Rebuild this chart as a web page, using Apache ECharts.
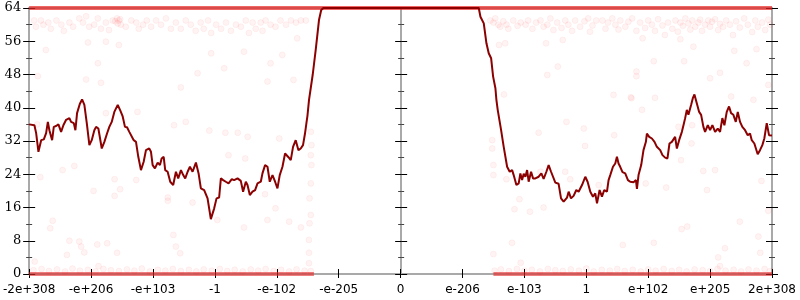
<!DOCTYPE html>
<html><head><meta charset="utf-8">
<script src="https://cdn.jsdelivr.net/npm/echarts@6/dist/echarts.min.js"></script>
<style>html,body{margin:0;padding:0;background:#fff}#c{width:800px;height:300px}</style>
</head><body><div id="c"></div>
<script>
const xTickLabels = ["-2e+308","-e+206","-e+103","-1","-e-102","-e-205","0","e-206","e-103","1","e+102","e+205","2e+308"];
const yTicks = [0,8,16,24,32,40,48,56,64];

const lineX = [-6.000,-5.915,-5.887,-5.850,-5.806,-5.763,-5.726,-5.698,-5.673,-5.629,
-5.602,-5.565,-5.527,-5.484,-5.447,-5.403,-5.350,-5.323,-5.279,-5.253,
-5.226,-5.182,-5.145,-5.108,-5.069,-5.027,-4.989,-4.947,-4.919,-4.882,
-4.855,-4.827,-4.785,-4.742,-4.705,-4.666,-4.624,-4.569,-4.527,-4.489,
-4.452,-4.419,-4.382,-4.355,-4.311,-4.274,-4.237,-4.194,-4.150,-4.113,
-4.060,-4.032,-4.005,-3.968,-3.924,-3.887,-3.860,-3.827,-3.802,-3.763,
-3.721,-3.673,-3.629,-3.592,-3.548,-3.511,-3.479,-3.440,-3.403,-3.360,
-3.306,-3.263,-3.226,-3.173,-3.118,-3.065,-3.011,-2.973,-2.931,-2.903,
-2.866,-2.823,-2.779,-2.726,-2.689,-2.634,-2.581,-2.544,-2.500,-2.473,
-2.435,-2.392,-2.350,-2.311,-2.258,-2.231,-2.189,-2.150,-2.113,-2.069,
-2.027,-1.989,-1.952,-1.908,-1.866,-1.811,-1.774,-1.737,-1.694,-1.650,
-1.613,-1.576,-1.544,-1.521,-1.505,-1.479,-1.419,-1.371,-1.318,-1.282,
-1.247,
1.263,1.290,1.344,1.387,1.424,1.463,1.495,1.532,1.548,1.569,
1.624,1.666,1.721,1.763,1.802,1.827,1.871,1.908,1.935,1.963,
1.989,2.016,2.044,2.069,2.108,2.140,2.177,2.231,2.274,2.311,
2.355,2.392,2.431,2.463,2.500,2.553,2.592,2.634,2.689,2.715,
2.753,2.795,2.839,2.876,2.931,2.984,3.021,3.065,3.108,3.145,
3.173,3.215,3.253,3.290,3.334,3.360,3.387,3.431,3.468,3.495,
3.521,3.548,3.585,3.629,3.673,3.710,3.763,3.802,3.818,3.844,
3.887,3.924,3.963,3.979,4.016,4.060,4.102,4.140,4.194,4.231,
4.274,4.311,4.344,4.382,4.408,4.435,4.463,4.500,4.544,4.570,
4.597,4.624,4.650,4.694,4.721,4.747,4.785,4.823,4.855,4.892,
4.919,4.963,5.000,5.037,5.081,5.124,5.161,5.198,5.231,5.269,
5.306,5.339,5.376,5.415,5.447,5.484,5.521,5.565,5.608,5.645,
5.673,5.715,5.769,5.806,5.844,5.876,5.915,5.952,6.000];

const lineY = [36.0,35.8,33.9,29.4,32.2,32.4,33.9,36.6,34.6,32.2,
35.4,35.6,36.0,34.2,35.8,37.1,37.5,36.6,36.3,34.6,
38.7,40.9,42.0,40.7,36.3,31.0,32.2,34.6,35.4,35.0,
35.4,30.2,31.8,33.8,35.4,36.6,39.0,40.7,39.3,37.9,
35.4,35.3,34.2,34.6,32.2,31.8,28.2,25.0,27.0,29.8,
30.2,29.4,26.2,25.4,26.8,26.2,27.8,28.2,25.0,24.6,
22.2,21.4,24.6,23.0,25.0,23.8,23.0,24.6,25.8,24.6,
26.8,24.2,20.6,20.2,18.2,13.2,15.8,18.2,18.4,23.0,
22.6,22.2,21.8,22.8,22.6,23.0,22.4,19.8,22.2,21.4,
19.0,19.8,20.2,21.8,22.2,24.2,26.2,25.8,22.2,23.8,
22.2,20.6,23.8,25.8,29.0,28.1,27.4,30.6,32.2,29.8,
30.2,31.0,33.8,36.3,38.0,41.9,48.0,53.9,61.1,63.5,
64,
64,61.9,60.3,55.5,53.1,51.9,47.5,44.7,41.9,39.5,
34.6,30.6,25.8,24.6,25.0,23.8,21.4,21.8,24.2,22.6,
24.1,23.4,25.0,22.2,24.6,23.0,23.0,23.4,24.2,22.9,
24.6,26.2,24.6,24.2,22.0,21.7,18.2,17.4,18.4,19.8,
18.2,18.8,20.2,19.8,21.4,23.4,22.2,19.8,18.6,19.4,
17.0,20.2,18.6,20.2,19.8,22.6,23.8,25.8,26.6,28.2,
26.6,25.8,24.5,24.2,22.6,22.2,22.1,22.6,20.5,23.8,
26.2,29.8,31.8,33.8,33.0,32.6,31.8,30.6,29.8,28.6,
28.0,27.8,31.4,31.8,31.4,33.0,30.2,32.2,34.2,35.8,
37.5,39.5,38.3,40.7,42.3,43.2,41.1,39.0,38.3,35.4,
34.2,35.8,34.6,35.8,34.2,35.0,34.2,37.5,35.8,39.0,
40.3,38.7,38.3,36.6,39.0,36.6,35.4,34.6,33.4,33.8,
32.2,31.4,28.8,29.8,31.0,32.6,36.3,33.4,33.3];

const topBand = [[-6,64],[6,64]];
const bottomBandLeft = [[-6,0],[-1.40,0]];
const bottomBandRight = [[1.50,0],[6,0]];

const topDots = [[-5.92,61],[-5.89,59.5],[-5.81,61],[-5.77,60],[-5.69,60.5],[-5.65,59],[-5.56,61],[-5.48,60],[-5.44,58.5],[-5.35,60.5],
[-5.29,59.5],[-5.19,61.5],[-5.13,60.5],[-5.08,62],[-5.03,59.5],[-4.95,60],[-4.89,61.5],[-4.84,59],[-4.76,60.5],[-4.71,58.7],
[-4.65,61],[-4.61,60.8],[-4.58,61.5],[-4.57,60.3],[-4.55,61],[-4.53,61.3],[-4.52,60],[-4.44,59.5],[-4.35,61],[-4.27,60.5],[-4.23,59],
[-4.16,60],[-4.10,61],[-4.03,59.5],[-3.95,61],[-3.87,60],[-3.79,61.5],[-3.71,59],[-3.63,60.5],[-3.55,59],[-3.47,61],
[-3.39,60],[-3.31,58.5],[-3.23,60.5],[-3.18,59],[-3.11,61],[-3.06,58],[-2.98,60],[-2.90,59],[-2.82,60.5],[-2.74,58.5],
[-2.66,60],[-2.58,59.5],[-2.50,61],[-2.45,58],[-2.39,60.5],[-2.34,59],[-2.26,60.5],[-2.23,58.5],[-2.18,61],[-2.10,60],
[-2.02,59.5],[-1.94,61],[-1.85,60],[-1.77,61],[-1.69,60.5],[-1.61,61],[-1.53,61],
[1.45,61],[1.50,60.5],[1.53,61.5],[1.58,60],[1.61,59.5],[1.66,60.8],[1.71,60],[1.74,59],[1.82,61],[1.89,59.7],
[1.94,60.5],[2.02,60],[2.06,61],[2.13,59],[2.19,60.5],[2.26,61],[2.31,59.5],[2.37,60],[2.42,61.5],[2.47,58.7],
[2.53,60.5],[2.60,59.2],[2.66,61],[2.71,60],[2.77,58.5],[2.82,61],[2.90,59.5],[2.97,60.8],[3.03,61.5],[3.10,59.8],
[3.16,61],[3.26,61],[3.31,59],[3.35,60.5],[3.42,61.5],[3.47,60],[3.52,58.8],[3.55,61],[3.63,59.5],[3.68,60.7],
[3.74,61.5],[3.81,58.5],[3.87,60.5],[3.95,59.2],[4.00,61],[4.06,60],[4.11,58.5],[4.16,61.3],[4.23,59.8],[4.27,57.5],
[4.32,60.5],[4.39,59],[4.44,61],[4.48,58.3],[4.52,60.5],[4.56,59.7],[4.60,61.5],[4.65,60.3],[4.68,58.8],[4.71,61],
[4.76,59.5],[4.81,60.5],[4.84,61.2],[4.87,58.5],[4.92,60],[4.97,61],[5.00,59.5],[5.03,60.7],[5.08,61.3],[5.13,58.7],
[5.16,60.2],[5.21,59.5],[5.26,61],[5.32,60],[5.37,57.5],[5.42,60.8],[5.48,59.3],[5.55,61.5],[5.61,60],[5.68,58.2],
[5.73,61],[5.77,59.5],[5.84,60.5],[5.89,58.7],[5.94,61.2],[5.97,60]];

const scatterDots = [[-5.73,53.9],[-5.05,55.7],[-4.76,55.9],[-4.55,55.1],[-4.89,50.7],[-5.08,46.8],[-4.84,46.0],[-5.86,47.6],[-3.55,44.9],[-3.28,48.3],
[-3.06,53.1],[-2.53,53.5],[-2.85,49.5],[-2.10,50.7],[-1.91,52.7],[-2.15,46.3],[-1.73,46.7],[-1.67,56.7],
[-4.76,38.7],[-4.25,39.0],[-3.66,35.8],[-3.47,36.6],[-5.46,25.0],[-5.27,26.0],[-5.82,23.3],[-4.62,22.8],[-4.27,22.6],[-4.96,20.0],
[-4.53,20.4],[-4.62,18.8],[-3.76,18.4],[-5.87,36.0],[-5.62,12.8],[-5.66,11.0],[-5.35,8.0],[-5.19,7.8],[-5.16,6.6],[-5.11,5.2],
[-5.39,4.6],[-4.90,7.1],[-4.74,7.4],[-4.58,5.1],[-5.91,3.0],[-4.88,1.9],[-3.76,17.6],[-3.36,17.2],[-3.67,9.4],[-3.63,6.6],[-3.56,5.0],
[-3.09,34.5],[-2.83,34.0],[-2.63,34.0],[-2.47,33.0],[-1.96,32.6],[-2.78,28.6],[-2.51,27.8],[-1.45,34.2],[-1.44,31.0],[-1.45,28.6],
[-1.44,26.2],[-1.45,21.8],[-1.47,18.2],[-1.45,14.2],[-2.96,13.0],[-2.19,19.2],[-2.02,15.8],[-2.53,11.2],[-2.15,13.0],[-1.80,12.6],
[-1.61,11.2],[-1.47,12.2],[-1.48,8.2],[-1.48,5.1],[-1.48,2.6],
[1.80,7.5],[1.50,4.8],[1.94,2.7],[1.48,32.2],[1.48,30.2],[1.50,26.2],[1.50,23.8],[1.71,22.8],[2.23,34.0],[2.68,36.6],
[2.96,35.0],[2.98,30.8],[3.45,33.4],[2.66,24.6],[2.74,22.8],[2.26,24.6],[1.92,18.0],[1.84,15.6],[2.09,15.0],[2.31,16.0],[3.20,21.4],
[3.73,42.3],[4.11,42.4],[3.90,39.5],[4.49,35.4],[4.71,35.8],[5.34,42.7],[5.70,41.9],[4.53,27.4],[4.70,31.4],[4.89,24.8],
[5.08,25.0],[4.95,20.2],[3.96,21.8],[4.29,20.8],[5.83,22.4],[3.59,7.0],[4.09,7.5],[4.54,10.8],[4.63,11.4],[5.48,12.6],
[5.94,15.2],[5.78,9.0],[5.24,6.2],[5.13,4.0],[5.81,5.1],[5.16,1.9],
[4.09,51.2],[4.58,51.2],[3.81,48.7],[3.81,47.6],[5.16,48.4],[5.00,47.1],[5.59,50.7],[5.39,53.7],[5.75,54.1],[4.73,54.7],
[3.44,43.1],[3.72,42.5],[5.94,45.5],[3.91,56.7],[4.52,56.5],[1.59,55.1],[1.69,55.5],[2.35,55.5],[2.37,47.9],[2.54,49.9],
[1.67,43.2],[2.62,56.3],[3.06,58.3]];

const bottomDots = [[-5.93,0.9],[-5.8,1.2],[-5.68,0.7],[-5.55,1.1],[-5.42,0.6],[-5.3,1.3],[-5.18,0.8],[-5.05,1.0],[-4.93,0.6],[-4.8,1.2],
[-4.68,0.9],[-4.55,0.7],[-4.42,1.1],[-4.3,0.8],[-4.18,1.3],[-4.05,0.6],[-3.92,1.0],[-3.8,0.8],[-3.68,1.2],[-3.55,0.7],
[-3.42,1.0],[-3.3,0.6],[-3.18,1.1],[-3.05,0.8],[-2.92,1.2],[-2.8,0.7],[-2.68,1.0],[-2.55,0.6],[-2.42,1.1],[-2.3,0.8],
[-2.18,1.2],[-2.05,0.7],[-1.93,1.0],[-1.8,0.6],[-1.68,1.1],[-1.55,0.8],[-1.45,0.7],
[1.52,0.8],[1.62,1.1],[1.75,0.7],[1.88,1.2],[2.0,0.8],[2.12,1.0],[2.25,0.6],[2.38,1.2],[2.5,0.9],[2.62,0.7],
[2.75,1.1],[2.88,0.8],[3.0,1.3],[3.12,0.6],[3.25,1.0],[3.38,0.8],[3.5,1.2],[3.62,0.7],[3.75,1.0],[3.88,0.6],
[4.0,1.1],[4.12,0.8],[4.25,1.2],[4.38,0.7],[4.5,1.0],[4.62,0.6],[4.75,1.1],[4.88,0.9],[5.0,0.7],[5.12,1.2],
[5.25,0.8],[5.38,1.0],[5.5,0.6],[5.62,1.1],[5.75,0.8],[5.88,1.2],[5.97,0.7]];

const AX_GRAY = '#a9a9a9';
function yAx(position, inside, offset, labels) {
  return {
    type: 'value', min: 0, max: 64, interval: 8, position: position, offset: offset,
    axisLine: { show: true, onZero: false, lineStyle: { color: inside ? 'rgba(0,0,0,0)' : AX_GRAY, width: 2 } },
    axisTick: { show: true, inside: inside, length: 6, lineStyle: { color: '#000', width: 1 } },
    minorTick: { show: true, splitNumber: 2, length: 3, lineStyle: { color: '#444', width: 1 } },
    splitLine: { show: false }, minorSplitLine: { show: false },
    axisLabel: { show: labels, margin: 8, fontFamily: 'DejaVu Serif', fontSize: 13, color: '#000',
      formatter: v => (yTicks.indexOf(v) >= 0 ? String(v) : '') }
  };
}
function xAx(position, inside, labels, line, ticks) {
  return {
    type: 'value', min: -6, max: 6, interval: 1, position: position,
    axisLine: { show: true, onZero: false, lineStyle: { color: line ? AX_GRAY : 'rgba(0,0,0,0)', width: 2 } },
    axisTick: { show: ticks, inside: inside, length: inside ? 5 : 4, lineStyle: { color: '#000', width: 1 } },
    splitLine: { show: false },
    axisLabel: { show: labels, margin: 10, fontFamily: 'DejaVu Sans', fontSize: 12, color: '#000',
      formatter: v => xTickLabels[Math.round(v) + 6] }
  };
}

const chart = echarts.init(document.getElementById('c'), null, { renderer: 'canvas' });
const dotStyle = { color: 'rgba(255,0,0,0.06)', borderColor: 'rgba(255,0,0,0.06)', borderWidth: 1 };
chart.setOption({
  animation: false,
  backgroundColor: '#fff',
  grid: { left: 28, right: 28, top: 8, bottom: 26, containLabel: false },
  xAxis: [xAx('bottom', false, true, true, true), xAx('bottom', true, false, false, true), xAx('top', false, false, true, false)],
  yAxis: [yAx('left', false, 0, true), yAx('left', true, 0, false),
          yAx('right', false, 0, false), yAx('right', true, 0, false),
          yAx('left', false, -372, false), yAx('left', true, -372, false)],
  series: [
    { type: 'line', data: topBand, symbol: 'none', lineStyle: { color: 'rgba(235,35,35,0.7)', width: 4 }, z: 3 },
    { type: 'line', data: bottomBandLeft, symbol: 'none', lineStyle: { color: 'rgba(230,40,40,0.6)', width: 4 }, z: 3 },
    { type: 'line', data: bottomBandRight, symbol: 'none', lineStyle: { color: 'rgba(230,40,40,0.6)', width: 4 }, z: 3 },
    { type: 'scatter', data: topDots, symbolSize: 6, itemStyle: dotStyle, z: 3 },
    { type: 'scatter', data: scatterDots, symbolSize: 6, itemStyle: dotStyle, z: 3 },
    { type: 'scatter', data: bottomDots, symbolSize: 6, itemStyle: dotStyle, z: 3 },
    { type: 'line', data: lineX.map((x, i) => [x, lineY[i]]), symbol: 'none',
      lineStyle: { color: '#8b0000', width: 2 }, z: 5 }
  ]
});
</script></body></html>
